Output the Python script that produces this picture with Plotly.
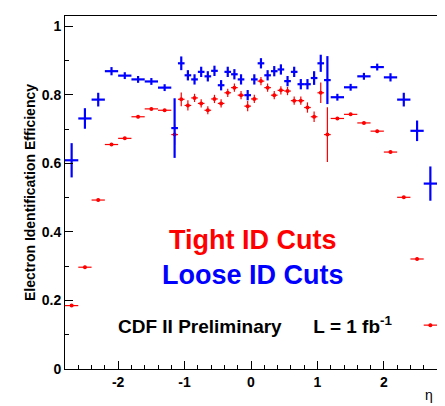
import plotly.graph_objects as go

eta = [-2.7, -2.5, -2.3, -2.1, -1.9, -1.7, -1.5, -1.3, -1.15,
       -1.05, -0.95, -0.85, -0.75, -0.65, -0.55, -0.45, -0.35, -0.25, -0.15, -0.05,
       0.05, 0.15, 0.25, 0.35, 0.45, 0.55, 0.65, 0.75, 0.85, 0.95, 1.05,
       1.15, 1.3, 1.5, 1.7, 1.9, 2.1, 2.3, 2.5, 2.7]
half_width = [0.1] * 8 + [0.05] * 24 + [0.1] * 8

loose = [0.609, 0.731, 0.786, 0.869, 0.856, 0.845, 0.839, 0.821, 0.703,
         0.892, 0.857, 0.845, 0.867, 0.854, 0.870, 0.828, 0.867, 0.860, 0.845, 0.799,
         0.845, 0.892, 0.857, 0.869, 0.874, 0.840, 0.867, 0.831, 0.831, 0.849, 0.892,
         0.843, 0.793, 0.822, 0.854, 0.881, 0.851, 0.786, 0.695, 0.541]
loose_err = [0.05, 0.03, 0.02, 0.012, 0.01, 0.01, 0.01, 0.01, 0.087,
             0.02, 0.015, 0.015, 0.015, 0.015, 0.015, 0.015, 0.015, 0.015, 0.015, 0.015,
             0.015, 0.015, 0.015, 0.015, 0.015, 0.015, 0.015, 0.015, 0.015, 0.02, 0.025,
             0.07, 0.01, 0.01, 0.01, 0.01, 0.012, 0.02, 0.03, 0.05]

tight = [0.185, 0.297, 0.493, 0.655, 0.673, 0.736, 0.759, 0.755, 0.684,
         0.787, 0.769, 0.791, 0.775, 0.755, 0.788, 0.775, 0.806, 0.821, 0.799, 0.767,
         0.788, 0.840, 0.821, 0.799, 0.813, 0.811, 0.783, 0.783, 0.763, 0.736, 0.806,
         0.684, 0.731, 0.743, 0.718, 0.694, 0.633, 0.501, 0.321, 0.128]
tight_err = [0.004, 0.004, 0.004, 0.004, 0.004, 0.004, 0.004, 0.004, 0.03,
             0.02, 0.015, 0.012, 0.012, 0.012, 0.012, 0.012, 0.012, 0.012, 0.012, 0.015,
             0.012, 0.012, 0.012, 0.012, 0.012, 0.012, 0.012, 0.012, 0.015, 0.015, 0.03,
             0.08, 0.004, 0.004, 0.004, 0.004, 0.004, 0.004, 0.004, 0.004]

fig = go.Figure()
fig.add_trace(go.Scatter(
    x=eta, y=tight, mode='markers',
    marker=dict(color='#ff0000', size=4),
    error_x=dict(type='data', array=half_width, color='#ff0000', thickness=1.2, width=0),
    error_y=dict(type='data', array=tight_err, color='#ff0000', thickness=1.2, width=0),
))
fig.add_trace(go.Scatter(
    x=eta, y=loose, mode='markers',
    marker=dict(color='#0000ff', size=1),
    error_x=dict(type='data', array=half_width, color='#0000ff', thickness=2.2, width=0),
    error_y=dict(type='data', array=loose_err, color='#0000ff', thickness=2.2, width=0),
))

axis_font = dict(family='Liberation Sans, Arial', size=14, color='black')
fig.update_layout(
    width=445, height=406,
    margin=dict(l=57, r=16, t=8, b=45),
    plot_bgcolor='white', paper_bgcolor='white',
    showlegend=False,
    font=dict(family='Liberation Sans, Arial', color='black'),
    xaxis=dict(range=[-2.8, 2.8], tickvals=[-2, -1, 0, 1, 2], ticktext=['<b>-2</b>', '<b>-1</b>', '<b>0</b>', '<b>1</b>', '<b>2</b>'],
               ticks='inside', ticklen=8, tickcolor='black', showgrid=False, zeroline=False,
               showline=True, linecolor='black', mirror=True, tickfont=axis_font,
               minor=dict(ticks='inside', ticklen=4, dtick=0.2, tickcolor='black')),
    yaxis=dict(range=[0, 1.03], tickvals=[0, 0.2, 0.4, 0.6, 0.8, 1],
               ticktext=['<b>0</b>', '<b>0.2</b>', '<b>0.4</b>', '<b>0.6</b>', '<b>0.8</b>', '<b>1</b>'],
               ticks='inside', ticklen=8, tickcolor='black', showgrid=False, zeroline=False,
               showline=True, linecolor='black', mirror=True, tickfont=axis_font,
               minor=dict(ticks='inside', ticklen=4, dtick=0.1, tickcolor='black'),
               title=dict(text='<b>Electron Identification Efficiency</b>', font=dict(size=14), standoff=2)),
)

fig.add_annotation(x=0.03, y=0.376, xref='x', yref='y', showarrow=False,
                   text='<b>Tight ID Cuts</b>', font=dict(size=27, color='#ff0000'))
fig.add_annotation(x=0.03, y=0.274, xref='x', yref='y', showarrow=False,
                   text='<b>Loose ID Cuts</b>', font=dict(size=27, color='#0000ff'))
fig.add_annotation(x=0.06, y=0.128, xref='x', yref='y', showarrow=False,
                   text='<b>CDF II Preliminary      L = 1 fb<sup>-1</sup></b>', font=dict(size=19, color='black'))
fig.add_annotation(x=1, y=0, xref='paper', yref='paper', yshift=-36, xshift=-2, showarrow=False,
                   text='η', font=dict(size=14, color='black'))

fig.write_html("out.html")
